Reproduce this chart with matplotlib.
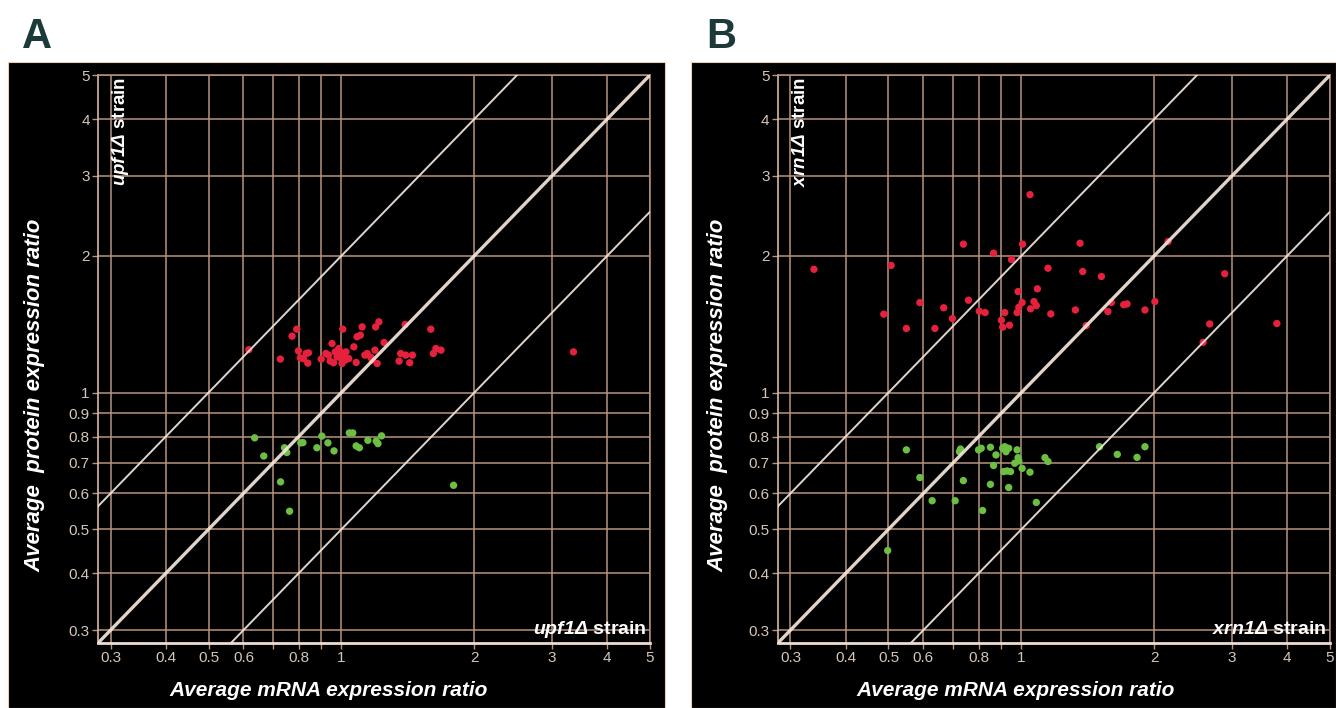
import matplotlib
matplotlib.use("Agg")
import matplotlib.pyplot as plt
from matplotlib.patches import Rectangle

plt.rcParams['font.family'] = ['Liberation Sans', 'DejaVu Sans']
plt.rcParams['mathtext.fontset'] = 'custom'
plt.rcParams['mathtext.it'] = 'Liberation Sans:italic:bold'
plt.rcParams['mathtext.rm'] = 'Liberation Sans:italic:bold'
plt.rcParams['mathtext.bf'] = 'Liberation Sans:italic:bold'

# ---------------- data ----------------
x_ticks = [0.3, 0.4, 0.5, 0.6, 0.7, 0.8, 0.9, 1, 2, 3, 4, 5]
x_tick_labels = ['0.3', '0.4', '0.5', '0.6', '', '0.8', '', '1', '2', '3', '4', '5']
y_ticks = [0.3, 0.4, 0.5, 0.6, 0.7, 0.8, 0.9, 1, 2, 3, 4, 5]
y_tick_labels = ['0.3', '0.4', '0.5', '0.6', '0.7', '0.8', '0.9', '1', '2', '3', '4', '5']
ratio_lines = [0.5, 1.0, 2.0]

# Panel A (upf1 strain)
A_red_x = [0.617, 0.727, 0.773, 0.792, 0.799, 0.807, 0.820, 0.832, 0.839, 0.842,
           0.900, 0.922, 0.935, 0.943, 0.952, 0.960, 0.968, 0.977, 0.986, 0.994,
           1.000, 1.003, 1.007, 1.012, 1.020, 1.024, 1.039, 1.067, 1.080, 1.085,
           1.104, 1.114, 1.130, 1.144, 1.164, 1.174, 1.191, 1.195, 1.205, 1.216,
           1.249, 1.351, 1.362, 1.394, 1.398, 1.428, 1.448, 1.594, 1.615, 1.637,
           1.681, 3.354]
A_red_y = [1.243, 1.185, 1.331, 1.379, 1.235, 1.192, 1.188, 1.219, 1.161, 1.223,
           1.185, 1.219, 1.209, 1.173, 1.282, 1.163, 1.229, 1.198, 1.250, 1.229,
           1.188, 1.159, 1.379, 1.209, 1.179, 1.229, 1.188, 1.261, 1.165, 1.327,
           1.338, 1.395, 1.209, 1.219, 1.198, 1.179, 1.240, 1.395, 1.159, 1.431,
           1.289, 1.173, 1.219, 1.412, 1.209, 1.163, 1.209, 1.379, 1.219, 1.250,
           1.240, 1.229]
A_green_x = [0.636, 0.667, 0.728, 0.743, 0.752, 0.763, 0.809, 0.818, 0.880, 0.903,
             0.932, 0.962, 1.042, 1.061, 1.080, 1.098, 1.148, 1.199, 1.210, 1.233,
             1.795]
A_green_y = [0.795, 0.725, 0.636, 0.756, 0.738, 0.548, 0.775, 0.776, 0.756, 0.802,
             0.775, 0.744, 0.815, 0.815, 0.763, 0.756, 0.785, 0.782, 0.772, 0.803,
             0.625]

# Panel B (xrn1 strain)
B_red_x = [0.339, 0.488, 0.507, 0.549, 0.589, 0.637, 0.667, 0.698, 0.739, 0.759,
           0.803, 0.828, 0.865, 0.901, 0.907, 0.917, 0.940, 0.950, 0.978, 0.983,
           0.987, 1.004, 1.006, 1.046, 1.049, 1.068, 1.087, 1.081, 1.149, 1.166,
           1.325, 1.358, 1.377, 1.518, 1.570, 1.598, 1.705, 1.735, 1.905, 2.006,
           2.670, 2.888, 3.790, 2.149, 2.580, 1.402]
B_red_y = [1.868, 1.488, 1.905, 1.384, 1.578, 1.384, 1.537, 1.455, 2.122, 1.597,
           1.510, 1.500, 2.027, 1.443, 1.393, 1.500, 1.407, 1.963, 1.500, 1.669,
           1.541, 1.578, 2.122, 2.727, 1.529, 1.586, 1.692, 1.554, 1.878, 1.490,
           1.520, 2.132, 1.847, 1.801, 1.508, 1.578, 1.561, 1.567, 1.520, 1.586,
           1.416, 1.826, 1.419, 2.150, 1.290, 1.404]
B_green_x = [0.549, 0.589, 0.628, 0.708, 0.724, 0.728, 0.739, 0.800, 0.811, 0.817,
             0.851, 0.851, 0.865, 0.876, 0.907, 0.912, 0.917, 0.923, 0.928, 0.936,
             0.936, 0.945, 0.966, 0.978, 0.983, 0.987, 1.004, 1.046, 1.081, 1.131,
             1.149, 1.503, 1.649, 1.828, 1.905, 0.498]
B_green_y = [0.748, 0.650, 0.578, 0.578, 0.741, 0.751, 0.640, 0.748, 0.754, 0.550,
             0.758, 0.628, 0.691, 0.729, 0.754, 0.670, 0.760, 0.741, 0.672, 0.754,
             0.618, 0.670, 0.699, 0.748, 0.719, 0.707, 0.681, 0.668, 0.573, 0.719,
             0.705, 0.760, 0.731, 0.720, 0.760, 0.449]

panels = [
    dict(letter='A', strain='upf1\u0394', rx=A_red_x, ry=A_red_y, gx=A_green_x, gy=A_green_y,
         bg=(0.006, 0.0, 0.492, 0.9124), ax=(0.0734, 0.0918, 0.4131, 0.8022),
         let=(0.0165, 0.932), yl=(0.0262, 0.442), xl=(0.2463, 0.0254)),
    dict(letter='B', strain='xrn1\u0394', rx=B_red_x, ry=B_red_y, gx=B_green_x, gy=B_green_y,
         bg=(0.5172, 0.0, 0.4828, 0.9124), ax=(0.5823, 0.0918, 0.4132, 0.8022),
         let=(0.529, 0.932), yl=(0.5374, 0.442), xl=(0.7605, 0.0254)),
]

GRID = '#b8947e'
TICKC = '#d6c6b8'
LINEC = '#f3e6dc'
RED = '#e6213d'
GREEN = '#6cbf40'
LIM = (0.281, 5.0)

fig = plt.figure(figsize=(13.36, 7.08), dpi=100)
fig.patch.set_facecolor('white')

for p in panels:
    bx, by, bw, bh = p['bg']
    fig.patches.append(Rectangle((bx, by), bw, bh, transform=fig.transFigure,
                                 facecolor='black', edgecolor='#e9cdb8', lw=0.8, zorder=-10))
    ax = fig.add_axes(p['ax'])
    ax.set_zorder(2)
    ax.set_facecolor('black')
    ax.set_xscale('log')
    ax.set_yscale('log')
    ax.set_xlim(*LIM)
    ax.set_ylim(*LIM)
    ax.minorticks_off()
    ax.set_xticks(x_ticks)
    ax.set_xticklabels(x_tick_labels)
    ax.set_yticks(y_ticks)
    ax.set_yticklabels(y_tick_labels)
    ax.tick_params(axis='both', colors=GRID, labelcolor=TICKC, labelsize=11,
                   length=4, width=1, direction='out', pad=2)
    ax.grid(True, color=GRID, lw=1.1, zorder=1)
    ax.set_axisbelow(True)
    for s in ['top', 'right']:
        ax.spines[s].set_color(GRID)
        ax.spines[s].set_linewidth(1.1)
    ax.spines['left'].set_color('#d8b8a4')
    ax.spines['left'].set_linewidth(1.2)
    ax.spines['bottom'].set_color('#f0ddd0')
    ax.spines['bottom'].set_linewidth(2.0)

    ax.scatter(p['rx'], p['ry'], s=28, color=RED, edgecolors='none', zorder=3)
    ax.scatter(p['gx'], p['gy'], s=28, color=GREEN, edgecolors='none', zorder=3)

    for k in ratio_lines:
        ax.axline((1.0, k), (2.0, 2.0 * k), color=LINEC,
                  lw=2.4 if k == 1.0 else 1.4, alpha=0.92, zorder=4)

    label = r'$\mathit{' + p['strain'] + r'}$ strain'
    ax.text(0.316, 4.95, label, rotation=90, ha='center', va='top', color='white',
            fontsize=13.5, fontweight='bold', zorder=5)
    ax.text(4.92, 0.301, label, ha='right', va='center', color='white',
            fontsize=14, fontweight='bold', zorder=5)

    fig.text(p['yl'][0], p['yl'][1], 'Average  protein expression ratio', rotation=90,
             ha='center', va='center', color='white', fontsize=16,
             fontweight='bold', fontstyle='italic', zorder=3)
    fig.text(p['xl'][0], p['xl'][1], 'Average mRNA expression ratio',
             ha='center', va='center', color='white', fontsize=15,
             fontweight='bold', fontstyle='italic', zorder=3)
    fig.text(p['let'][0], p['let'][1], p['letter'], ha='left', va='baseline',
             color='#1d3a3a', fontsize=30, fontweight='bold')

fig.savefig('out.png', dpi=100, facecolor='white')
